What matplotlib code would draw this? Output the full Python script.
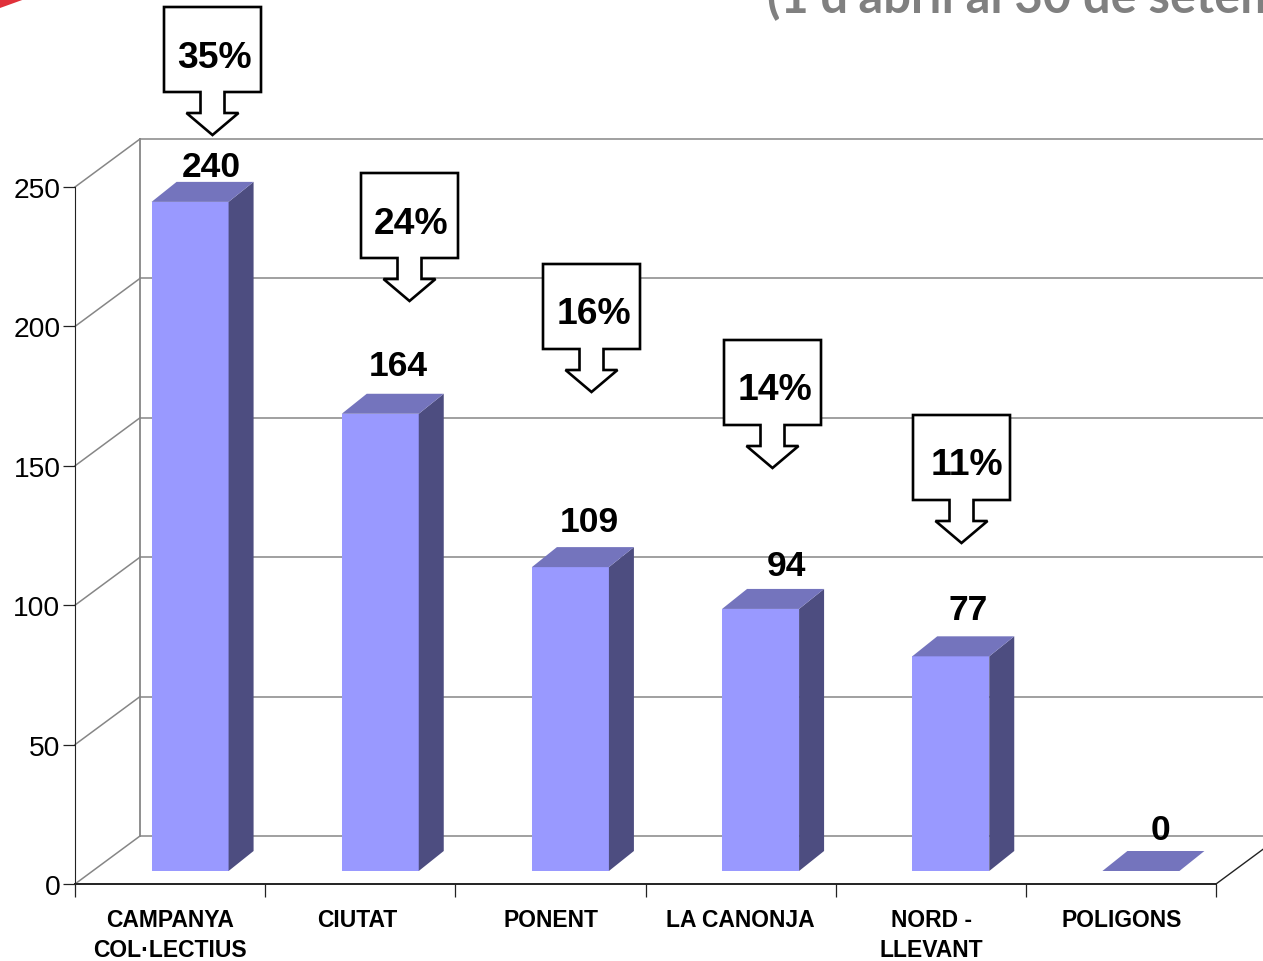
import matplotlib
matplotlib.use("Agg")
import matplotlib.pyplot as plt
from matplotlib.patches import Polygon
from matplotlib.transforms import ScaledTranslation

# Data
categories = ["CAMPANYA\nCOL·LECTIUS", "CIUTAT", "PONENT", "LA CANONJA", "NORD -\nLLEVANT", "POLIGONS"]
values = [240, 164, 109, 94, 77, 0]
percents = ["35%", "24%", "16%", "14%", "11%"]
y_ticks = [0, 50, 100, 150, 200, 250]
title_text = "(1 d'abril al 30 de setembre)"

# Layout in image pixels
W, H = 1263, 962
PLOT_LEFT, PLOT_RIGHT, PLOT_BOTTOM, PLOT_TOP = 75, 1216, 885, 188
WALL_DX, WALL_DY = 65, 48
BAR_DX, BAR_DY = 25, 20
BAR_WIDTH_PX = 77
BAR_SHIFT_X, BAR_SHIFT_Y = 20, 13
label_dx = [21, 18, 19, 26, 17, 20]
label_dy = [15, 28, 26, 23, 27, 21]
category_dx = [0, -3, 1, 0, 1, 1]
box_left = [164, 361, 543, 724, 913]
box_top = [8, 174, 265, 341, 416]
text_dx = [2, 2, 2, 2, 5]

# Colours
FRONT = "#9999FF"
SIDE = "#4D4D80"
TOP = "#7474BD"
GRID = "#868686"

fig = plt.figure(figsize=(W / 100, H / 100), dpi=100)
ax = fig.add_axes([PLOT_LEFT / W, 1 - PLOT_BOTTOM / H,
                   (PLOT_RIGHT - PLOT_LEFT) / W, (PLOT_BOTTOM - PLOT_TOP) / H])
ax.set_xlim(0, len(categories))
ax.set_ylim(0, 250)

# pixels to data units
px_x = len(categories) / (PLOT_RIGHT - PLOT_LEFT)
px_y = 250 / (PLOT_BOTTOM - PLOT_TOP)

# back wall, floor and diagonals
wall_x = WALL_DX * px_x
wall_y = WALL_DY * px_y
for v in y_ticks:
    ax.plot([0, wall_x], [v, v + wall_y], color=GRID, lw=1.1, clip_on=False, zorder=1)
    ax.plot([wall_x, len(categories) + wall_x], [v + wall_y, v + wall_y],
            color=GRID, lw=1.1, clip_on=False, zorder=1)
ax.plot([wall_x, wall_x], [wall_y, 250 + wall_y], color=GRID, lw=1.3, clip_on=False, zorder=1)
ax.plot([len(categories), len(categories) + wall_x], [0, wall_y], color="#222222", lw=1,
        clip_on=False, zorder=1)

# bars: front face through ax.bar, side and top as polygons
base = BAR_SHIFT_Y * px_y
dx = BAR_DX * px_x
dy = BAR_DY * px_y
bw = BAR_WIDTH_PX * px_x
centers = [i + 0.5 + BAR_SHIFT_X * px_x for i in range(len(values))]
ax.bar(centers, values, width=bw, bottom=base, color=FRONT, linewidth=0, zorder=3)
for c, v in zip(centers, values):
    left, right, top = c - bw / 2, c + bw / 2, base + v
    if v > 0:
        ax.add_patch(Polygon([(right, base), (right + dx, base + dy), (right + dx, top + dy), (right, top)],
                             closed=True, fc=SIDE, ec="none", zorder=3, clip_on=False))
    ax.add_patch(Polygon([(left, top), (left + dx, top + dy), (right + dx, top + dy), (right, top)],
                         closed=True, fc=TOP, ec="none", zorder=3, clip_on=False))

# value labels
for c, v, ldx, ldy in zip(centers, values, label_dx, label_dy):
    ax.annotate(str(v), (c, base + v + dy), xytext=(ldx * 0.72, ldy * 0.72), textcoords="offset points",
                ha="center", va="center", fontsize=25.5, fontweight="bold",
                family="Liberation Sans", color="black", zorder=5, annotation_clip=False)

# axes
for s in ["top", "right"]:
    ax.spines[s].set_visible(False)
ax.spines["left"].set_color("#222222")
ax.spines["bottom"].set_color("#222222")
ax.spines["bottom"].set_linewidth(1.4)
ax.set_yticks(y_ticks)
ax.tick_params(axis="y", length=9, width=0.9, color="#222222", pad=1.5)
for t in ax.get_yticklabels():
    t.set_fontsize(20.3)
    t.set_family("Liberation Sans")
ax.set_xticks(range(len(categories) + 1))
ax.set_xticklabels([])
ax.tick_params(axis="x", which="major", length=9, width=0.9, color="#222222", direction="out")
ax.set_xticks([i + 0.5 for i in range(len(categories))], minor=True)
ax.set_xticklabels(categories, minor=True, fontsize=16.5, fontweight="bold",
                   family="Liberation Sans", linespacing=1.42)
ax.tick_params(axis="x", which="minor", length=0, pad=17)
for t, shift in zip(ax.get_xticklabels(minor=True), category_dx):
    t.set_transform(t.get_transform() + ScaledTranslation(shift / 100, 0, fig.dpi_scale_trans))
ax.patch.set_alpha(0)

# overlay in image pixels for the callouts, title and logo corner
over = fig.add_axes([0, 0, 1, 1])
over.set_xlim(0, W)
over.set_ylim(H, 0)
over.axis("off")
over.patch.set_alpha(0)

for pct, bl, bt, tdx in zip(percents, box_left, box_top, text_dx):
    cx = bl + 48.5
    bb = bt + 85
    pts = [(bl, bt), (bl + 97, bt), (bl + 97, bb), (cx + 12, bb), (cx + 12, bb + 21),
           (cx + 26, bb + 21), (cx, bb + 43), (cx - 26, bb + 21), (cx - 12, bb + 21),
           (cx - 12, bb), (bl, bb)]
    over.add_patch(Polygon(pts, closed=True, fc="white", ec="black", lw=1.9, joinstyle="miter", zorder=6))
    over.text(cx + tdx, bt + 50, pct, ha="center", va="center", fontsize=26.8, fontweight="bold",
              family="Liberation Sans", zorder=7)

over.text(767, 13, title_text, ha="left", va="baseline", fontsize=35.2, fontweight="bold",
          family="Lato", color="#808080")

over.add_patch(Polygon([(0, 0), (25, 0), (0, 9)], closed=True, fc="#E0303A", ec="none"))

fig.savefig("out.png", dpi=100)
